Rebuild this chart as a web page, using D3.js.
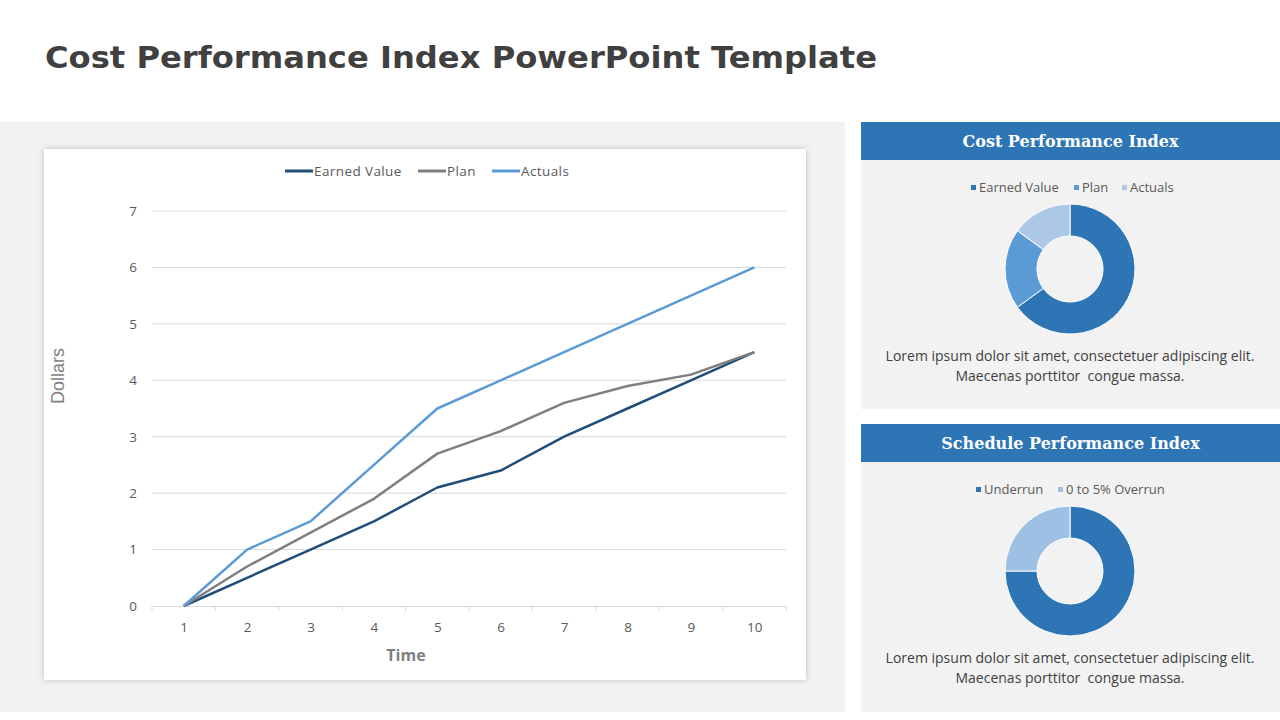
<!DOCTYPE html>
<html>
<head>
<meta charset="utf-8">
<script src="https://cdn.jsdelivr.net/npm/d3@7"></script>
<style>
  html, body { margin: 0; padding: 0; background: #ffffff; }
  svg { display: block; }
</style>
</head>
<body>
<svg id="root" width="1280" height="720"></svg>
<script>
// ---------- DATA ----------
const timeCategories = [1, 2, 3, 4, 5, 6, 7, 8, 9, 10];
const earnedValue = [0, 0.5, 1.0, 1.5, 2.1, 2.4, 3.0, 3.5, 4.0, 4.5];
const planValues = [0, 0.7, 1.3, 1.9, 2.7, 3.1, 3.6, 3.9, 4.1, 4.5];
const actualValues = [0, 1.0, 1.5, 2.5, 3.5, 4.0, 4.5, 5.0, 5.5, 6.0];
const yTicks = [0, 1, 2, 3, 4, 5, 6, 7];
const lineSeriesNames = ["Earned Value", "Plan", "Actuals"];

const cpiLabels = ["Earned Value", "Plan", "Actuals"];
const cpiValues = [65, 20, 15];
const spiLabels = ["Underrun", "0 to 5% Overrun"];
const spiValues = [75, 25];

const titleText = "Cost Performance Index PowerPoint Template";
const loremLines = ["Lorem ipsum dolor sit amet, consectetuer adipiscing elit.", "Maecenas porttitor  congue massa."];

// ---------- STYLE ----------
const lineColors = ["#1f4e79", "#7f7f7f", "#5b9bd5"];
const cpiColors = ["#2e75b6", "#5b9bd5", "#adc8e6"];
const spiColors = ["#2e75b6", "#9dc0e4"];
const sansFont = "'Open Sans', 'Noto Sans', sans-serif";

const svg = d3.select("#root");

const defs = svg.append("defs");
const filt = defs.append("filter").attr("id", "shadow").attr("x", "-5%").attr("y", "-5%").attr("width", "110%").attr("height", "110%");
filt.append("feDropShadow").attr("dx", 0).attr("dy", 0).attr("stdDeviation", 3).attr("flood-color", "#000").attr("flood-opacity", 0.22);

// Title
svg.append("text")
  .attr("x", 45).attr("y", 68)
  .attr("font-family", "'DejaVu Sans', Verdana, sans-serif")
  .attr("font-weight", "bold")
  .attr("font-size", 31)
  .attr("fill", "#404040")
  .attr("textLength", 832)
  .attr("lengthAdjust", "spacingAndGlyphs")
  .text(titleText);

// Left gray panel
svg.append("rect").attr("x", 0).attr("y", 122).attr("width", 845).attr("height", 590).attr("fill", "#f2f2f2");

// Chart card
svg.append("rect").attr("x", 44).attr("y", 149).attr("width", 762).attr("height", 531)
  .attr("fill", "#ffffff").attr("filter", "url(#shadow)");

// ---------- LINE CHART ----------
const plotLeft = 152, plotRight = 786, plotTop = 211, plotBottom = 606;
const x = d3.scalePoint().domain(timeCategories).range([plotLeft, plotRight]).padding(0.5);
const y = d3.scaleLinear().domain([0, 7]).range([plotBottom, plotTop]);

const g = svg.append("g");

// gridlines
g.append("g").selectAll("line").data(yTicks.filter(d => d > 0)).join("line")
  .attr("x1", plotLeft).attr("x2", plotRight)
  .attr("y1", d => y(d)).attr("y2", d => y(d))
  .attr("stroke", "#d9d9d9").attr("stroke-width", 1);

// y axis labels
const yAxis = d3.axisLeft(y).tickValues(yTicks).tickSize(0).tickPadding(15).tickFormat(d3.format("d"));
const yg = g.append("g").attr("transform", `translate(${plotLeft},0)`).call(yAxis);
yg.select(".domain").remove();
yg.selectAll("text").attr("font-family", sansFont).attr("font-size", 13.5).attr("fill", "#595959");

// x axis
const xAxis = d3.axisBottom(x).tickSize(0).tickPadding(16);
const xg = g.append("g").attr("transform", `translate(0,${plotBottom})`).call(xAxis);
xg.select(".domain").attr("stroke", "#d9d9d9");
xg.selectAll("text").attr("font-family", sansFont).attr("font-size", 13.5).attr("fill", "#595959");
// band-boundary ticks
const step = x.step();
const boundaries = d3.range(timeCategories.length + 1).map(i => plotLeft + i * step);
g.append("g").selectAll("line").data(boundaries).join("line")
  .attr("x1", d => d).attr("x2", d => d)
  .attr("y1", plotBottom).attr("y2", plotBottom + 5)
  .attr("stroke", "#d9d9d9");

// axis titles
g.append("text").attr("x", (plotLeft + plotRight) / 2 - 63).attr("y", 661)
  .attr("text-anchor", "middle").attr("font-family", sansFont).attr("font-weight", "bold")
  .attr("font-size", 16).attr("fill", "#7f7f7f").text("Time");
g.append("text").attr("transform", "translate(64,376) rotate(-90)")
  .attr("text-anchor", "middle").attr("font-family", "'Liberation Sans', Arial, sans-serif")
  .attr("font-size", 18).attr("fill", "#7f7f7f").text("Dollars");

// lines
const seriesData = [earnedValue, planValues, actualValues];
const lineGen = d3.line().x((d, i) => x(timeCategories[i])).y(d => y(d));
g.append("g").selectAll("path").data(seriesData).join("path")
  .attr("d", d => lineGen(d))
  .attr("fill", "none")
  .attr("stroke", (d, i) => lineColors[i])
  .attr("stroke-width", 2.5)
  .attr("stroke-linejoin", "round");

// legend
const legendItems = [
  { name: lineSeriesNames[0], x: 285 },
  { name: lineSeriesNames[1], x: 418 },
  { name: lineSeriesNames[2], x: 492 }
];
const lg = g.append("g");
legendItems.forEach((it, i) => {
  lg.append("line").attr("x1", it.x).attr("x2", it.x + 28).attr("y1", 171).attr("y2", 171)
    .attr("stroke", lineColors[i]).attr("stroke-width", 3);
  lg.append("text").attr("x", it.x + 29).attr("y", 176)
    .attr("font-family", sansFont).attr("font-size", 13.5).attr("letter-spacing", 0.4)
    .attr("fill", "#595959").text(it.name);
});

// ---------- RIGHT PANELS ----------
function drawPanel(top, bodyBottom, title, labels, values, colors, legendLayout) {
  const px = 861, pw = 419;
  svg.append("rect").attr("x", px).attr("y", top).attr("width", pw).attr("height", 38).attr("fill", "#2e75b6");
  svg.append("rect").attr("x", px).attr("y", top + 38).attr("width", pw).attr("height", bodyBottom - top - 38).attr("fill", "#f2f2f2");
  svg.append("text").attr("x", px + pw / 2).attr("y", top + 25)
    .attr("text-anchor", "middle").attr("font-family", "'DejaVu Serif', 'Liberation Serif', serif")
    .attr("font-weight", "bold").attr("font-size", 16).attr("fill", "#ffffff").text(title);

  // legend
  legendLayout.forEach((lx, i) => {
    svg.append("rect").attr("x", lx).attr("y", top + 63).attr("width", 5).attr("height", 5).attr("fill", colors[i]);
    svg.append("text").attr("x", lx + 8).attr("y", top + 70)
      .attr("font-family", sansFont).attr("font-size", 13).attr("fill", "#595959").text(labels[i]);
  });

  // donut
  const cx = 1070, cy = top + 147;
  const pie = d3.pie().sort(null).value(d => d)(values);
  const arc = d3.arc().innerRadius(33).outerRadius(65);
  svg.append("g").attr("transform", `translate(${cx},${cy})`)
    .selectAll("path").data(pie).join("path")
    .attr("d", arc).attr("fill", (d, i) => colors[i])
    .attr("stroke", "#ffffff").attr("stroke-width", 1);

  // body text
  loremLines.forEach((t, i) => {
    svg.append("text").attr("x", cx).attr("y", top + 239 + i * 20)
      .attr("text-anchor", "middle").attr("font-family", sansFont)
      .attr("font-size", 14).attr("fill", "#404040").attr("xml:space", "preserve").text(t);
  });
}

drawPanel(122, 409, "Cost Performance Index", cpiLabels, cpiValues, cpiColors, [971, 1074, 1122]);
drawPanel(424, 712, "Schedule Performance Index", spiLabels, spiValues, spiColors, [976, 1058]);
</script>
</body>
</html>
